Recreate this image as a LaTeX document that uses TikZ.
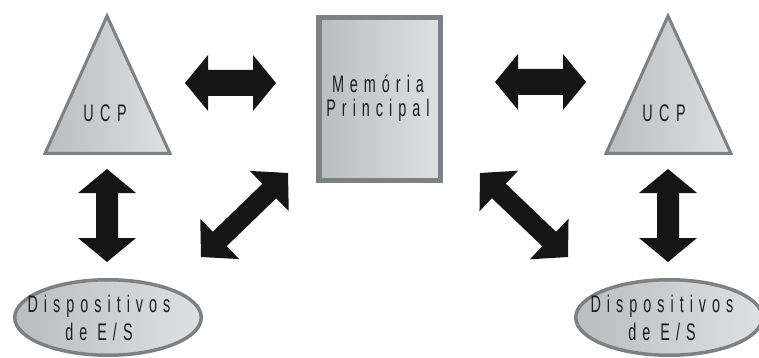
\documentclass[tikz,border=0pt]{standalone}
\usepackage{fontspec}
\usetikzlibrary{calc,shapes.geometric}
\newfontfamily\labfont[FakeStretch=0.6,LetterSpace=25]{Liberation Sans}
\newfontfamily\ucpfont[FakeStretch=0.6,LetterSpace=27]{Liberation Sans}
\definecolor{bordergray}{HTML}{7C8185}
\definecolor{filldark}{HTML}{BABCBF}
\definecolor{filllight}{HTML}{DFE0E2}
\definecolor{arrowblack}{HTML}{151515}
\definecolor{textgray}{HTML}{1E1E1E}
\tikzset{
  shapebox/.style={draw=bordergray, left color=filldark, right color=filllight, inner sep=0pt},
  lab/.style={font=\labfont\fontsize{24}{24}\selectfont, text=textgray, align=center, inner sep=0pt},
  ucplab/.style={font=\ucpfont\fontsize{24}{24}\selectfont, text=textgray, inner sep=0pt},
  arrowfill/.style={fill=arrowblack},
}
% #1 start, #2 end, #3 head length, #4 head half width, #5 shaft half width
\newcommand\blockarrow[5]{%
  \coordinate (ba1) at ($(#1)!#3!(#2)$);
  \coordinate (ba2) at ($(#2)!#3!(#1)$);
  \fill[arrowfill] (#1) -- ($(ba1)!#4!90:(#2)$) -- ($(ba1)!#5!90:(#2)$)
    -- ($(ba2)!#5!-90:(#1)$) -- ($(ba2)!#4!-90:(#1)$) -- (#2)
    -- ($(ba2)!#4!90:(#1)$) -- ($(ba2)!#5!90:(#1)$)
    -- ($(ba1)!#5!-90:(#2)$) -- ($(ba1)!#4!-90:(#2)$) -- cycle;}
\begin{document}
\begin{tikzpicture}[x=1pt,y=-1pt]
\useasboundingbox (0,0) rectangle (759,358);
% triangles (CPUs)
\draw[shapebox, line width=3pt, line join=miter] (107,16) -- (170,153.5) -- (45,153.5) -- cycle;
\node[ucplab] (cpuL) at (105,113) {UCP};
\draw[shapebox, line width=3pt, line join=miter] (668,16) -- (731,153.5) -- (606,153.5) -- cycle;
\node[ucplab] (cpuR) at (664,113) {UCP};
% memory
\node[shapebox, line width=5.5pt, minimum width=121.5pt, minimum height=162.5pt] (mem) at (379.5,99) {};
\node[lab] (memlab) at (378,98) {Memória\\Principal};
% I/O devices
\node[shapebox, ellipse, line width=3.5pt, minimum width=186.5pt, minimum height=75.5pt] (ioL) at (108,317.5) {};
\node[lab, font=\labfont\fontsize{24}{28}\selectfont] (ioLlab) at (99,318) {Dispositivos\\de E/S};
\node[shapebox, ellipse, line width=3.5pt, minimum width=186.5pt, minimum height=75.5pt] (ioR) at (669,317.5) {};
\node[lab, font=\labfont\fontsize{24}{28}\selectfont] (ioRlab) at (662,318) {Dispositivos\\de E/S};
% arrow end points
\coordinate (h1a) at (185,83);  \coordinate (h1b) at (276,83);
\coordinate (h2a) at (495,82);  \coordinate (h2b) at (586,82);
\coordinate (v1a) at (107,169); \coordinate (v1b) at (107,262);
\coordinate (v2a) at (668,169); \coordinate (v2b) at (668,262);
\coordinate (d1a) at (201,257); \coordinate (d1b) at (288,173);
\coordinate (d2a) at (480,173); \coordinate (d2b) at (568,257);
\blockarrow{h1a}{h1b}{23pt}{28pt}{13pt}
\blockarrow{h2a}{h2b}{23pt}{28pt}{13pt}
\blockarrow{v1a}{v1b}{24pt}{29pt}{11pt}
\blockarrow{v2a}{v2b}{24pt}{29pt}{11pt}
\blockarrow{d1a}{d1b}{26pt}{28pt}{10pt}
\blockarrow{d2a}{d2b}{26pt}{28pt}{10pt}
\end{tikzpicture}
\end{document}
